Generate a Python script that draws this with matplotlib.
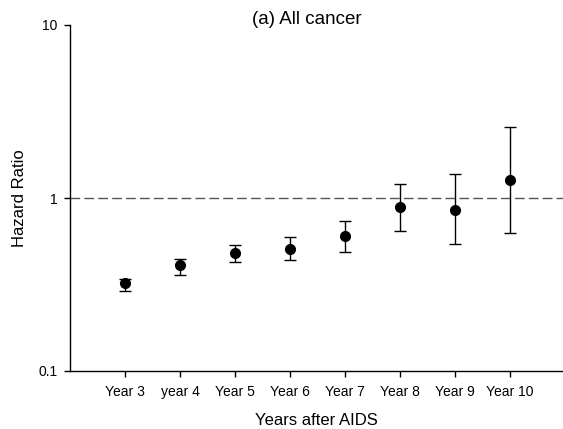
import matplotlib
matplotlib.use("Agg")

import matplotlib.pyplot as plt
from matplotlib.ticker import FixedLocator, NullLocator, FixedFormatter

plt.rcParams["font.family"] = ["Liberation Sans", "DejaVu Sans"]

# Data
years = ["Year 3", "year 4", "Year 5", "Year 6", "Year 7", "Year 8", "Year 9", "Year 10"]
hr = [0.321, 0.410, 0.479, 0.509, 0.605, 0.887, 0.857, 1.27]
ci_low = [0.290, 0.360, 0.426, 0.436, 0.490, 0.644, 0.539, 0.628]
ci_high = [0.340, 0.444, 0.537, 0.593, 0.739, 1.21, 1.37, 2.58]

x = list(range(1, len(years) + 1))
err_lo = [h - l for h, l in zip(hr, ci_low)]
err_hi = [u - h for h, u in zip(hr, ci_high)]

fig = plt.figure(figsize=(5.63, 4.29), dpi=100)
ax = fig.add_axes([70 / 563, 58 / 429, 493 / 563, 346 / 429])

ax.axhline(1, color="#555555", lw=1, ls=(0, (7, 3)), zorder=1)
ax.errorbar(x, hr, yerr=[err_lo, err_hi], fmt="o", color="black",
            ms=7, capsize=4, elinewidth=1, capthick=1, zorder=3)

ax.set_yscale("log")
ax.set_ylim(0.1, 10)
ax.set_xlim(0, 493 / 55)
ax.yaxis.set_major_locator(FixedLocator([0.1, 1, 10]))
ax.yaxis.set_major_formatter(FixedFormatter(["0.1", "1", "10"]))
ax.yaxis.set_minor_locator(NullLocator())
ax.set_xticks(x)
ax.set_xticklabels(years)

for side in ["top", "right"]:
    ax.spines[side].set_visible(False)
for side in ["left", "bottom"]:
    ax.spines[side].set_linewidth(1)

ax.tick_params(axis="both", direction="out", length=4, width=1, labelsize=10)
ax.tick_params(axis="y", pad=5)
ax.tick_params(axis="x", pad=14)
for lab in ax.get_xticklabels():
    lab.set_verticalalignment("baseline")

ax.set_xlabel("Years after AIDS", fontsize=12, labelpad=10)
ax.set_ylabel("Hazard Ratio", fontsize=12, labelpad=8)
fig.text(307 / 563, 1 - 20 / 429, "(a) All cancer", fontsize=13.5,
         ha="center", va="center")

fig.savefig("out.png", dpi=100)
